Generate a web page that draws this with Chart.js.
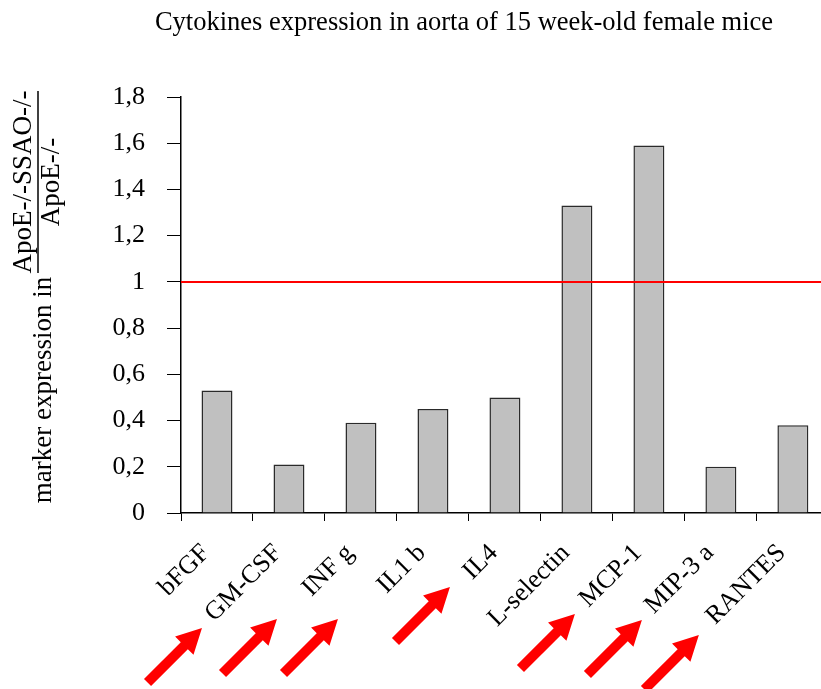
<!DOCTYPE html>
<html>
<head>
<meta charset="utf-8">
<script src="https://cdn.jsdelivr.net/npm/chart.js@4.4.1/dist/chart.umd.min.js"></script>
<style>
  html, body { margin: 0; padding: 0; background: #fff; overflow: hidden; }
  #wrap { width: 832px; height: 689px; }
</style>
</head>
<body>
<div id="wrap"><canvas id="chart" width="832" height="689"></canvas></div>
<script>
const categories = ["bFGF", "GM-CSF", "INF g", "IL1 b", "IL4", "L-selectin", "MCP-1", "MIP-3 a", "RANTES"];
const ratioValues = [0.53, 0.21, 0.39, 0.45, 0.5, 1.33, 1.59, 0.2, 0.38];
const yTickLabels = ["0", "0,2", "0,4", "0,6", "0,8", "1", "1,2", "1,4", "1,6", "1,8"];
const referenceLevel = 1;
// categories that carry a red arrow, with the arrow tip offset from the category centre
const arrowTargets = ["GM-CSF", "INF g", "IL1 b", "IL4", "MCP-1", "MIP-3 a", "RANTES"];
const arrowTipOffsets = [[-87, 115], [-84, 106], [-95, 106], [-55, 74], [-74, 101], [-79, 107], [-94, 122]];

const serif = "'Liberation Serif', 'Times New Roman', serif";

const extrasPlugin = {
  id: "extras",
  afterDatasetsDraw(chart) {
    const ctx = chart.ctx;
    const area = chart.chartArea;
    const y = chart.scales.y;

    // red reference line at 1
    const yRef = y.getPixelForValue(referenceLevel);
    ctx.save();
    ctx.strokeStyle = "#ff0000";
    ctx.lineWidth = 2;
    ctx.beginPath();
    ctx.moveTo(area.left, yRef);
    ctx.lineTo(area.right, yRef);
    ctx.stroke();
    ctx.restore();
  },
  afterDraw(chart) {
    const ctx = chart.ctx;
    const x = chart.scales.x;

    // title
    ctx.save();
    ctx.fillStyle = "#000";
    ctx.font = "26.5px " + serif;
    ctx.textAlign = "center";
    ctx.textBaseline = "middle";
    ctx.fillText("Cytokines expression in aorta of 15 week-old female mice", 464, 23);
    ctx.restore();

    // y axis title with the fraction
    ctx.save();
    ctx.fillStyle = "#000";
    ctx.font = "27px " + serif;
    ctx.textAlign = "center";
    ctx.textBaseline = "middle";
    ctx.translate(44, 390);
    ctx.rotate(-Math.PI / 2);
    ctx.fillText("marker expression in", 0, 0);
    ctx.restore();

    ctx.save();
    ctx.fillStyle = "#000";
    ctx.strokeStyle = "#000";
    ctx.font = "27px " + serif;
    ctx.textAlign = "center";
    ctx.textBaseline = "middle";
    ctx.translate(38, 182);
    ctx.rotate(-Math.PI / 2);
    ctx.fillText("ApoE-/-SSAO-/-", 0, -14);
    ctx.fillText("ApoE-/-", 0, 14);
    ctx.lineWidth = 1.5;
    ctx.beginPath();
    ctx.moveTo(-91, 0);
    ctx.lineTo(91, 0);
    ctx.stroke();
    ctx.restore();

    // red arrows pointing at labels
    ctx.save();
    ctx.fillStyle = "#ff0000";
    arrowTargets.forEach((name, i) => {
      const idx = categories.indexOf(name);
      const cx = x.getPixelForValue(idx);
      const tipX = cx + arrowTipOffsets[i][0];
      const tipY = x.top + arrowTipOffsets[i][1];
      ctx.save();
      ctx.translate(tipX, tipY);
      ctx.rotate(-Math.PI / 4);
      // arrow drawn along +x, tip at origin
      ctx.beginPath();
      ctx.moveTo(0, 0);
      ctx.lineTo(-25, -13);
      ctx.lineTo(-25, -5);
      ctx.lineTo(-77, -5);
      ctx.lineTo(-77, 5);
      ctx.lineTo(-25, 5);
      ctx.lineTo(-25, 13);
      ctx.closePath();
      ctx.fill();
      ctx.restore();
    });
    ctx.restore();
  }
};

new Chart(document.getElementById("chart"), {
  type: "bar",
  data: {
    labels: categories,
    datasets: [{
      data: ratioValues,
      backgroundColor: "#c0c0c0",
      borderColor: "#2a2a2a",
      borderWidth: 1.5,
      borderSkipped: "bottom",
      categoryPercentage: 1,
      barPercentage: 0.43
    }]
  },
  options: {
    responsive: false,
    animation: false,
    devicePixelRatio: 1,
    layout: { padding: { top: 97, right: 1, left: 0, bottom: 0 } },
    plugins: {
      legend: { display: false },
      title: { display: false },
      tooltip: { enabled: false }
    },
    scales: {
      x: {
        afterFit(scale) { scale.height = 176; },
        grid: { drawOnChartArea: false, drawTicks: true, tickLength: 8, color: "#000", offset: true },
        border: { color: "#000", width: 1.5 },
        ticks: {
          color: "#000",
          font: { family: serif, size: 26 },
          maxRotation: 45,
          minRotation: 45,
          padding: 17,
          labelOffset: -11,
          autoSkip: false
        }
      },
      y: {
        min: 0,
        max: 1.8,
        afterFit(scale) { scale.width = 181; },
        grid: { drawOnChartArea: false, drawTicks: true, tickLength: 14, color: "#000" },
        border: { color: "#000", width: 1.5 },
        ticks: {
          stepSize: 0.2,
          color: "#000",
          padding: 22,
          font: { family: serif, size: 26 },
          callback: (value, index) => yTickLabels[index]
        }
      }
    }
  },
  plugins: [extrasPlugin]
});
</script>
</body>
</html>
